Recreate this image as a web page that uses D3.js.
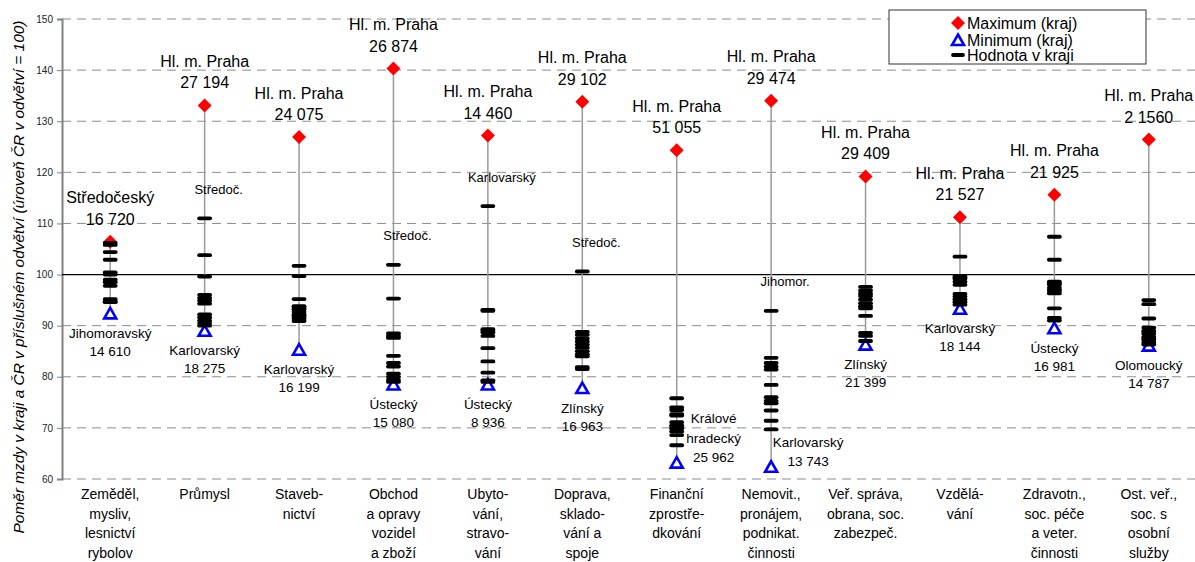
<!DOCTYPE html>
<html><head><meta charset="utf-8">
<script src="https://cdn.jsdelivr.net/npm/d3@7/dist/d3.min.js"></script>
<style>
html,body{margin:0;padding:0;background:#fff;}
svg{display:block;font-family:"Liberation Sans",Arial,sans-serif;}
</style></head>
<body>
<svg id="chart" width="1195" height="562"></svg>
<script>
// ---- DATA ----
const categories = ["Zeměděl","Průmysl","Staveb","Obchod","Ubyto","Doprava","Finanční","Nemovit","Veř. správa","Vzdělá","Zdravotn","Ost. veř."];
const categoryLabels = [
  ["Zeměděl,","mysliv,","lesnictví","rybolov"],
  ["Průmysl"],
  ["Staveb-","nictví"],
  ["Obchod","a opravy","vozidel","a zboží"],
  ["Ubyto-","vání,","stravo-","vání"],
  ["Doprava,","sklado-","vání a","spoje"],
  ["Finanční","zprostře-","dkování"],
  ["Nemovit.,","pronájem,","podnikat.","činnosti"],
  ["Veř. správa,","obrana, soc.","zabezpeč."],
  ["Vzdělá-","vání"],
  ["Zdravotn.,","soc. péče","a veter.","činnosti"],
  ["Ost. veř.,","soc. s","osobní","služby"]
];
const maxValues  = [106.4, 133.1, 126.9, 140.3, 127.2, 133.8, 124.3, 134.0, 119.2, 111.2, 115.6, 126.4];
const maxRegions = ["Středočeský","Hl. m. Praha","Hl. m. Praha","Hl. m. Praha","Hl. m. Praha","Hl. m. Praha","Hl. m. Praha","Hl. m. Praha","Hl. m. Praha","Hl. m. Praha","Hl. m. Praha","Hl. m. Praha"];
const maxWages   = ["16 720","27 194","24 075","26 874","14 460","29 102","51 055","29 474","29 409","21 527","21 925","2 1560"];
const minValues  = [92.4, 89.0, 85.3, 78.5, 78.5, 77.8, 63.2, 62.4, 86.3, 93.3, 89.5, 86.1];
const minRegions = ["Jihomoravský","Karlovarský","Karlovarský","Ústecký","Ústecký","Zlínský","Králové hradecký","Karlovarský","Zlínský","Karlovarský","Ústecký","Olomoucký"];
const minWages   = ["14 610","18 275","16 199","15 080","8 936","16 963","25 962","13 743","21 399","18 144","16 981","14 787"];
const regionValues = [
  [106.2, 105.8, 104.4, 102.9, 100.4, 100.0, 99.0, 98.5, 97.8, 95.2, 94.8, 94.6],
  [111.0, 103.8, 99.6, 96.0, 95.4, 94.9, 94.3, 92.2, 91.6, 91.0, 90.5, 90.0],
  [101.7, 99.7, 95.2, 93.8, 93.5, 93.2, 92.7, 92.2, 92.0, 91.7, 91.3, 90.9],
  [101.9, 95.3, 88.5, 88.0, 87.6, 84.1, 82.7, 82.0, 80.6, 80.0, 79.4, 79.0],
  [113.4, 93.1, 92.9, 89.3, 89.0, 88.7, 88.0, 85.6, 83.0, 80.8, 79.3, 79.0],
  [100.6, 88.8, 88.2, 87.5, 86.9, 86.3, 85.7, 85.0, 84.4, 84.0, 81.9, 81.5],
  [75.8, 74.0, 73.5, 72.7, 72.4, 71.1, 70.5, 70.2, 69.9, 69.3, 68.6, 66.6],
  [92.9, 83.7, 82.7, 82.0, 81.4, 78.4, 76.0, 75.3, 74.8, 73.4, 71.4, 69.7],
  [97.6, 96.9, 96.3, 95.8, 95.1, 94.4, 93.8, 93.4, 91.9, 88.6, 88.0, 87.0],
  [103.5, 99.7, 99.4, 99.2, 98.6, 98.0, 96.2, 95.7, 95.2, 95.0, 94.6, 94.1],
  [107.4, 102.9, 98.6, 98.3, 98.0, 97.4, 97.0, 96.8, 96.3, 93.4, 91.5, 91.0],
  [95.0, 94.2, 91.4, 89.6, 89.0, 88.8, 88.4, 87.8, 87.5, 87.2, 86.7, 86.3]
];
const secondLabels = ["", "Středoč.", "", "Středoč.", "Karlovarský", "Středoč.", "", "Jihomor.", "", "", "", ""];
const yTicks = [60, 70, 80, 90, 100, 110, 120, 130, 140, 150];
const yTitle = "Poměr mzdy v kraji a ČR v příslušném odvětví (úroveň ČR v odvětví = 100)";
const legendItems = ["Maximum (kraj)", "Minimum (kraj)", "Hodnota v kraji"];

// ---- CHART ----
(function () {
const svg = d3.select("#chart");
const plotL = 62, plotR = 1195, plotT = 19, plotB = 479;

const y = d3.scaleLinear().domain([60, 150]).range([plotB, plotT]);
const x = d3.scaleBand().domain(categories).range([63, 1196]).padding(0);
const cx = c => x(c) + x.bandwidth() / 2;

svg.append("g").selectAll("line").data(yTicks.filter(v => v !== 100)).join("line")
  .attr("x1", plotL).attr("x2", plotR)
  .attr("y1", d => y(d)).attr("y2", d => y(d))
  .attr("stroke", "#8c8c8c").attr("stroke-width", 1).attr("stroke-dasharray", "9,6");

const yAxis = svg.append("g").attr("transform", `translate(${plotL},0)`)
  .call(d3.axisLeft(y).tickValues(yTicks).tickSize(5).tickPadding(4).tickFormat(d3.format("d")));
yAxis.select(".domain").attr("stroke", "#808080").attr("stroke-width", 2);
yAxis.selectAll(".tick line").attr("stroke", "#808080");
yAxis.selectAll(".tick text").attr("font-size", 10).attr("fill", "#222")
  .attr("font-family", "'Liberation Sans',Arial,sans-serif");

svg.append("line").attr("x1", plotL).attr("x2", plotR).attr("y1", y(100)).attr("y2", y(100))
  .attr("stroke", "#000").attr("stroke-width", 1.3);

svg.append("text")
  .attr("transform", `translate(18,${277}) rotate(-90)`)
  .attr("text-anchor", "middle").attr("dominant-baseline", "central")
  .attr("font-size", 15.4).attr("font-style", "italic").attr("fill", "#000")
  .text(yTitle);

const data = categories.map((c, i) => ({
  c, i, max: maxValues[i], min: minValues[i], vals: regionValues[i],
  maxReg: maxRegions[i], maxWage: maxWages[i], minReg: minRegions[i], minWage: minWages[i],
  second: secondLabels[i], lines: categoryLabels[i]
}));

const g = svg.append("g").selectAll("g").data(data).join("g")
  .attr("transform", d => `translate(${cx(d.c)},0)`);

g.append("line").attr("x1", 0).attr("x2", 0)
  .attr("y1", d => y(d.max)).attr("y2", d => y(d.min))
  .attr("stroke", "#9a9a9a").attr("stroke-width", 1.5);

g.append("path").attr("d", "M0,-7L7,0L0,7L-7,0Z")
  .attr("transform", d => `translate(0,${y(d.max)})`).attr("fill", "#ff0000");

g.append("path").attr("d", "M0,-5.5L6,5L-6,5Z")
  .attr("transform", d => `translate(0,${y(d.min)})`)
  .attr("fill", "#fff").attr("stroke", "#0000ff").attr("stroke-width", 2.6);

g.selectAll("line.tk").data(d => d.vals).join("line").attr("class", "tk")
  .attr("x1", -5.5).attr("x2", 5.5).attr("y1", v => y(v)).attr("y2", v => y(v))
  .attr("stroke", "#000").attr("stroke-width", 3.8).attr("stroke-linecap", "round");

g.append("text").attr("text-anchor", "middle").attr("dominant-baseline", "central")
  .attr("font-size", 16).attr("y", d => y(d.max) - 44).text(d => d.maxReg);
g.append("text").attr("text-anchor", "middle").attr("dominant-baseline", "central")
  .attr("font-size", 16).attr("y", d => y(d.max) - 22.5).text(d => d.maxWage);

g.each(function(d) {
  const gg = d3.select(this);
  const ym = y(d.min);
  if (ym + 40 > plotB) {
    const lines = d.minReg.split(" ").concat([d.minWage]);
    const n = lines.length;
    gg.selectAll("text.mn").data(lines).join("text").attr("class", "mn")
      .attr("text-anchor", "middle").attr("dominant-baseline", "central")
      .attr("font-size", 13.5).attr("x", 37)
      .attr("y", (t, k) => ym - 5 - (n - 1 - k) * 19.5).text(t => t);
  } else {
    const lines = [d.minReg, d.minWage];
    gg.selectAll("text.mn").data(lines).join("text").attr("class", "mn")
      .attr("text-anchor", "middle").attr("dominant-baseline", "central")
      .attr("font-size", 13.5).attr("y", (t, k) => ym + 20 + k * 18).text(t => t);
  }
  if (d.second) {
    gg.append("text").attr("text-anchor", "middle").attr("dominant-baseline", "central")
      .attr("font-size", 13).attr("x", 14).attr("y", y(d3.max(d.vals)) - 29).text(d.second);
  }
  gg.selectAll("text.cat").data(d.lines).join("text").attr("class", "cat")
    .attr("text-anchor", "middle").attr("dominant-baseline", "central")
    .attr("font-size", 14).attr("y", (t, k) => 494 + k * 19.6).text(t => t);
});

const lg = svg.append("g");
lg.append("rect").attr("x", 889).attr("y", 10).attr("width", 257).attr("height", 54)
  .attr("fill", "#fff").attr("stroke", "#333").attr("stroke-width", 1);
const ly = [23, 40, 55];
lg.append("path").attr("d", "M0,-7L7,0L0,7L-7,0Z").attr("transform", `translate(958,${ly[0]})`).attr("fill", "#ff0000");
lg.append("path").attr("d", "M0,-5.5L6,5L-6,5Z").attr("transform", `translate(958,${ly[1]})`)
  .attr("fill", "#fff").attr("stroke", "#0000ff").attr("stroke-width", 2.6);
lg.append("line").attr("x1", 953).attr("x2", 963).attr("y1", ly[2]).attr("y2", ly[2])
  .attr("stroke", "#000").attr("stroke-width", 3.8).attr("stroke-linecap", "round");
lg.selectAll("text").data(legendItems).join("text")
  .attr("x", 967).attr("y", (t, k) => ly[k]).attr("dominant-baseline", "central")
  .attr("font-size", 16).text(t => t);
})();
</script>
</body></html>
